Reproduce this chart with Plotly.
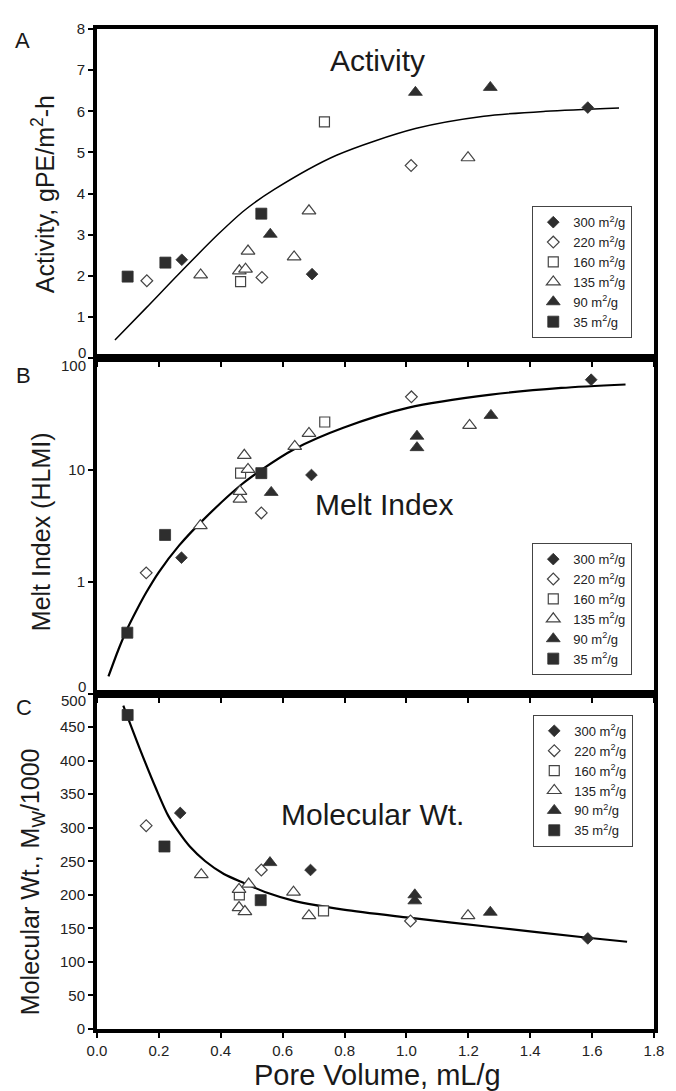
import plotly.graph_objects as go

# ---------------- data ----------------
series_names = ["300 m<sup>2</sup>/g", "220 m<sup>2</sup>/g", "160 m<sup>2</sup>/g",
                "135 m<sup>2</sup>/g", "90 m<sup>2</sup>/g", "35 m<sup>2</sup>/g"]

# Panel A: Activity, gPE/m2-h
act_x_300 = [0.274, 0.695, 1.586]
act_y_300 = [2.39, 2.04, 6.09]
act_x_220 = [0.161, 0.533, 1.015]
act_y_220 = [1.88, 1.96, 4.68]
act_x_160 = [0.464, 0.735]
act_y_160 = [1.86, 5.74]
act_x_135 = [0.335, 0.460, 0.480, 0.488, 0.637, 0.685, 1.199]
act_y_135 = [2.02, 2.12, 2.16, 2.60, 2.46, 3.58, 4.87]
act_x_90 = [0.560, 1.029, 1.271]
act_y_90 = [3.01, 6.46, 6.58]
act_x_35 = [0.099, 0.221, 0.531]
act_y_35 = [1.98, 2.32, 3.51]
fitA_x = [0.058, 0.159, 0.265, 0.393, 0.478, 0.573, 0.774, 1.029, 1.25, 1.45, 1.687]
fitA_y = [0.44, 1.22, 2.05, 3.02, 3.60, 4.10, 4.93, 5.58, 5.88, 6.00, 6.08]

# Panel B: Melt Index (HLMI)
mi_x_300 = [0.273, 0.693, 1.597]
mi_y_300 = [1.64, 9.0, 64]
mi_x_220 = [0.159, 0.531, 1.016]
mi_y_220 = [1.20, 4.12, 45]
mi_x_160 = [0.464, 0.736]
mi_y_160 = [9.35, 26.8]
mi_x_135 = [0.334, 0.462, 0.462, 0.476, 0.488, 0.639, 0.685, 1.204]
mi_y_135 = [3.17, 5.48, 6.42, 13.5, 10.1, 16.2, 21.2, 25]
mi_x_90 = [0.563, 1.034, 1.034, 1.273]
mi_y_90 = [6.29, 20, 15.8, 30.7]
mi_x_35 = [0.098, 0.220, 0.531]
mi_y_35 = [0.35, 2.62, 9.35]
fitB_x = [0.037, 0.07, 0.096, 0.13, 0.159, 0.2, 0.265, 0.34, 0.467, 0.531, 0.637, 0.796,
          1.007, 1.273, 1.5, 1.708]
fitB_y = [0.142, 0.25, 0.37, 0.57, 0.80, 1.22, 2.1, 3.5, 7.4, 10.0, 15.3, 23.8,
          36, 47, 54, 58]

# Panel C: Molecular Wt., Mw/1000
mw_x_300 = [0.269, 0.690, 1.586]
mw_y_300 = [322, 237, 135]
mw_x_220 = [0.159, 0.531, 1.013]
mw_y_220 = [303, 237, 161]
mw_x_160 = [0.460, 0.732]
mw_y_160 = [200, 176]
mw_x_135 = [0.337, 0.459, 0.459, 0.478, 0.490, 0.635, 0.685, 1.199]
mw_y_135 = [230, 208, 181, 175, 216, 204, 169, 169]
mw_x_90 = [0.559, 1.027, 1.027, 1.271]
mw_y_90 = [248, 200, 191, 174]
mw_x_35 = [0.099, 0.218, 0.529]
mw_y_35 = [468, 272, 192]
fitC_x = [0.085, 0.138, 0.191, 0.23, 0.265, 0.30, 0.35, 0.41, 0.478, 0.55, 0.637, 0.796,
          1.007, 1.273, 1.586, 1.713]
fitC_y = [482, 418, 358, 318, 293, 272, 250, 231, 217, 203, 191, 178,
          166, 152, 136, 130]

x_ticks = [0.0, 0.2, 0.4, 0.6, 0.8, 1.0, 1.2, 1.4, 1.6, 1.8]
x_tick_text = ["0.0", "0.2", "0.4", "0.6", "0.8", "1.0", "1.2", "1.4", "1.6", "1.8"]
a_ticks = [0, 1, 2, 3, 4, 5, 6, 7, 8]
a_tick_text = ["", "1", "2", "3", "4", "5", "6", "7", "8"]
b_ticks = [0.1, 1, 10, 100]
b_tick_text = ["", "1", "10", ""]
c_ticks = [0, 50, 100, 150, 200, 250, 300, 350, 400, 450, 500]
c_tick_text = ["0", "50", "100", "150", "200", "250", "300", "350", "400", "450", ""]

# ---------------- styles ----------------
DARK = "#2e2e2e"
FONT = "Liberation Sans, Arial, sans-serif"
styles = [
    dict(symbol="diamond", size=9, color=DARK, line=dict(width=0.8, color=DARK)),
    dict(symbol="diamond", size=9, color="white", line=dict(width=1.2, color="#444")),
    dict(symbol="square", size=10, color="white", line=dict(width=1.2, color="#444")),
    dict(symbol="triangle-up", size=12, color="white", line=dict(width=1.2, color="#444")),
    dict(symbol="triangle-up", size=12, color=DARK, line=dict(width=0.8, color=DARK)),
    dict(symbol="square", size=11, color=DARK, line=dict(width=0.8, color=DARK)),
]

panels = [
    dict(xa="x", ya="y", legend="legend",
         data=[(act_x_300, act_y_300), (act_x_220, act_y_220), (act_x_160, act_y_160),
               (act_x_135, act_y_135), (act_x_90, act_y_90), (act_x_35, act_y_35)],
         fit=(fitA_x, fitA_y), lw=1.5),
    dict(xa="x2", ya="y2", legend="legend2",
         data=[(mi_x_300, mi_y_300), (mi_x_220, mi_y_220), (mi_x_160, mi_y_160),
               (mi_x_135, mi_y_135), (mi_x_90, mi_y_90), (mi_x_35, mi_y_35)],
         fit=(fitB_x, fitB_y), lw=2.2),
    dict(xa="x3", ya="y3", legend="legend3",
         data=[(mw_x_300, mw_y_300), (mw_x_220, mw_y_220), (mw_x_160, mw_y_160),
               (mw_x_135, mw_y_135), (mw_x_90, mw_y_90), (mw_x_35, mw_y_35)],
         fit=(fitC_x, fitC_y), lw=2.2),
]

fig = go.Figure()
for p in panels:
    fx, fy = p["fit"]
    fig.add_trace(go.Scatter(x=fx, y=fy, mode="lines", xaxis=p["xa"], yaxis=p["ya"],
                             line=dict(color="black", width=p["lw"], shape="spline", smoothing=0.8),
                             showlegend=False, hoverinfo="skip"))
    for name, st, (xs, ys) in zip(series_names, styles, p["data"]):
        fig.add_trace(go.Scatter(x=xs, y=ys, mode="markers", name=name,
                                 xaxis=p["xa"], yaxis=p["ya"], legend=p["legend"],
                                 marker=st, showlegend=True))

# ---------------- layout ----------------
# The page has an 8px body margin, so the figure is 8px smaller than the window.
OFF = 8
W, H = 676 - OFF, 1091 - OFF
ML, MR, MT, MB = 97 - OFF, 15, 20 - OFF, 62
plot_h = H - MT - MB
plot_w = W - ML - MR


def py2paper(py):  # page pixel -> paper
    return (H - MB - (py - OFF)) / plot_h


def px2paper(px):
    return (px - OFF - ML) / plot_w


domA = [py2paper(352), 1.0]
domB = [py2paper(690.5), py2paper(352)]
domC = [0.0, py2paper(690.5)]

axis_common = dict(showline=True, linewidth=4, linecolor="black", mirror=True,
                   showgrid=False, zeroline=False, ticks="outside", ticklen=5,
                   tickwidth=1.5, tickcolor="black",
                   tickfont=dict(family=FONT, size=15, color="#222"))

xcommon = dict(axis_common, range=[0, 1.8], tickvals=x_ticks, ticktext=x_tick_text)

legend_common = dict(bgcolor="white", bordercolor="#444", borderwidth=1,
                     font=dict(family=FONT, size=13, color="#222"),
                     tracegroupgap=0, itemwidth=30, xanchor="right")

fig.update_layout(
    width=W, height=H,
    margin=dict(l=ML, r=MR, t=MT, b=MB),
    paper_bgcolor="white", plot_bgcolor="white",
    font=dict(family=FONT, color="#222"),
    xaxis=dict(xcommon, anchor="y", showticklabels=False),
    xaxis2=dict(xcommon, anchor="y2", showticklabels=False),
    xaxis3=dict(xcommon, anchor="y3", showticklabels=True),
    yaxis=dict(axis_common, domain=domA, anchor="x", range=[0, 8],
               tickvals=a_ticks, ticktext=a_tick_text),
    yaxis2=dict(axis_common, domain=domB, anchor="x2", type="log", range=[-1, 2],
                tickvals=b_ticks, ticktext=b_tick_text),
    yaxis3=dict(axis_common, domain=domC, anchor="x3", range=[0, 500],
                tickvals=c_ticks, ticktext=c_tick_text),
    legend=dict(legend_common, x=px2paper(639), y=py2paper(332), yanchor="bottom"),
    legend2=dict(legend_common, x=px2paper(639), y=py2paper(672), yanchor="bottom"),
    legend3=dict(legend_common, x=px2paper(640), y=py2paper(712), yanchor="top"),
    showlegend=True,
)

annos = [
    dict(text="A", x=px2paper(22), y=py2paper(32), size=22),
    dict(text="B", x=px2paper(23), y=py2paper(370), size=22),
    dict(text="C", x=px2paper(23), y=py2paper(705), size=22),
    dict(text="Activity", x=px2paper(381), y=py2paper(52), size=30),
    dict(text="Melt Index", x=px2paper(388), y=py2paper(500), size=30),
    dict(text="Molecular Wt.", x=px2paper(376), y=py2paper(813), size=30),
    dict(text="Pore Volume, mL/g", x=px2paper(381), y=py2paper(1075), size=29),
    dict(text="Activity, gPE/m<sup>2</sup>-h", x=px2paper(42), y=py2paper(187), size=25, angle=-90),
    dict(text="Melt Index (HLMI)", x=px2paper(41), y=py2paper(527), size=25, angle=-90),
    dict(text="Molecular Wt., M<sub>W</sub>/1000", x=px2paper(32), y=py2paper(880), size=25, angle=-90),
]
for a in annos:
    fig.add_annotation(text=a["text"], xref="paper", yref="paper", x=a["x"], y=a["y"],
                       xanchor="center", yanchor="middle", showarrow=False,
                       textangle=a.get("angle", 0),
                       font=dict(family=FONT, size=a["size"], color="#1a1a1a"))

# boundary tick labels that sit on the shared panel borders (offset as in the reference)
edge_labels = [("0", 346), ("100", 360), ("0", 683), ("500", 698)]
for txt, py in edge_labels:
    fig.add_annotation(text=txt, xref="paper", yref="paper", x=px2paper(88), y=py2paper(py),
                       xanchor="right", yanchor="middle", showarrow=False,
                       font=dict(family=FONT, size=15, color="#222"))

fig.write_html("out.html")
